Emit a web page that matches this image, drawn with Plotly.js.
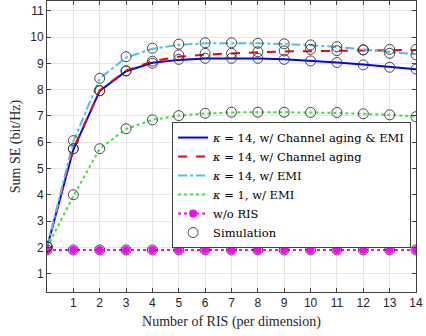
<!DOCTYPE html>
<html>
<head>
<meta charset="utf-8">
<script src="https://cdn.plot.ly/plotly-3.0.1.min.js"></script>
<style>html,body{margin:0;padding:0;background:#fff;}#chart{width:426px;height:336px;}</style>
</head>
<body>
<div id="chart"></div>
<script>
const xRIS = [0,1,2,3,4,5,6,7,8,9,10,11,12,13,14];
const agingEMI    = [2.0, 5.72, 7.95, 8.70, 9.02, 9.13, 9.18, 9.19, 9.18, 9.15, 9.10, 9.03, 8.95, 8.86, 8.77];
const agingEMISim = [2.02, 5.75, 7.96, 8.71, 9.00, 9.15, 9.19, 9.19, 9.19, 9.15, 9.09, 9.03, 8.94, 8.85, 8.78];
const aging       = [2.0, 5.75, 7.97, 8.72, 9.08, 9.25, 9.33, 9.38, 9.42, 9.45, 9.46, 9.48, 9.50, 9.51, 9.51];
const agingSim    = [2.02, 5.75, 7.96, 8.71, 9.08, 9.32, 9.38, 9.38, 9.44, 9.47, 9.53, 9.48, 9.51, 9.53, 9.53];
const emi14       = [2.0, 6.03, 8.42, 9.22, 9.55, 9.70, 9.76, 9.77, 9.76, 9.73, 9.69, 9.62, 9.53, 9.44, 9.34];
const emi14Sim    = [2.02, 6.06, 8.43, 9.25, 9.57, 9.73, 9.78, 9.78, 9.76, 9.74, 9.70, 9.63, 9.51, 9.38, 9.32];
const emi1        = [2.0, 3.95, 5.75, 6.50, 6.85, 7.01, 7.09, 7.13, 7.14, 7.14, 7.13, 7.11, 7.08, 7.04, 6.98];
const emi1Sim     = [2.02, 4.00, 5.75, 6.51, 6.85, 7.01, 7.10, 7.14, 7.14, 7.14, 7.13, 7.13, 7.08, 7.04, 6.97];
const noRIS       = [1.9, 1.9, 1.9, 1.9, 1.9, 1.9, 1.9, 1.9, 1.9, 1.9, 1.9, 1.9, 1.9, 1.9, 1.9];
const xTicks = [1,2,3,4,5,6,7,8,9,10,11,12,13,14];
const yTicks = [1,2,3,4,5,6,7,8,9,10,11];
const names = ['<i>κ</i> = 14, w/ Channel aging &amp; EMI','<i>κ</i> = 14, w/ Channel aging','<i>κ</i> = 14, w/ EMI','<i>κ</i> = 1, w/ EMI','w/o RIS','Simulation'];

const lineTr = (y, name, color, dash) => ({x:xRIS, y:y, name:name, type:'scatter', mode:'lines',
  line:{color:color, width:2, dash:dash}});
const simTr = (y, show) => ({x:xRIS, y:y, name:names[5], type:'scatter', mode:'markers', showlegend:show,
  marker:{symbol:'circle-open', size:10, color:'#333333', line:{width:0.9, color:'#333333'}}});

const data = [
  lineTr(agingEMI, names[0], '#0000ff', 'solid'),
  lineTr(aging, names[1], '#ff0000', 'dash'),
  lineTr(emi14, names[2], '#4dbeee', 'dashdot'),
  lineTr(emi1, names[3], '#33e633', 'dot'),
  {x:xRIS, y:noRIS, name:names[4], type:'scatter', mode:'lines+markers',
   line:{color:'#ff00ff', width:2, dash:'dot'},
   marker:{symbol:'circle', size:8, color:'#ff00ff', line:{width:0}}},
  simTr(agingEMISim, false), simTr(agingSim, false), simTr(emi14Sim, false), simTr(emi1Sim, false),
  simTr(noRIS, true)
];

const layout = {
  width:426, height:336,
  margin:{l:47, r:10, t:1, b:44},
  paper_bgcolor:'#ffffff', plot_bgcolor:'#ffffff',
  showlegend:true,
  legend:{x:0.339, y:0.584, xanchor:'left', yanchor:'top', bgcolor:'#ffffff',
    bordercolor:'#404040', borderwidth:1, font:{family:'DejaVu Serif', size:11.5, color:'#000'},
    tracegroupgap:0},
  xaxis:{range:[0,14], tickvals:xTicks, ticks:'inside', ticklen:4, tickcolor:'#404040',
    showline:true, mirror:'ticks', linecolor:'#404040', linewidth:1,
    showgrid:true, gridcolor:'#e6e6e6', gridwidth:1, zeroline:false,
    tickfont:{family:'Liberation Sans', size:12, color:'#262626'},
    title:{text:'Number of RIS (per dimension)', font:{family:'Liberation Serif', size:14, color:'#262626'}, standoff:6}},
  yaxis:{range:[0.3,11.37], tickvals:yTicks, ticks:'inside', ticklen:4, tickcolor:'#404040',
    showline:true, mirror:'ticks', linecolor:'#404040', linewidth:1,
    showgrid:true, gridcolor:'#e6e6e6', gridwidth:1, zeroline:false,
    tickfont:{family:'Liberation Sans', size:12, color:'#262626'},
    title:{text:'Sum SE (bit/Hz)', font:{family:'Liberation Serif', size:14, color:'#262626'}, standoff:6}}
};
Plotly.newPlot('chart', data, layout, {displayModeBar:false, staticPlot:true});
</script>
</body>
</html>
